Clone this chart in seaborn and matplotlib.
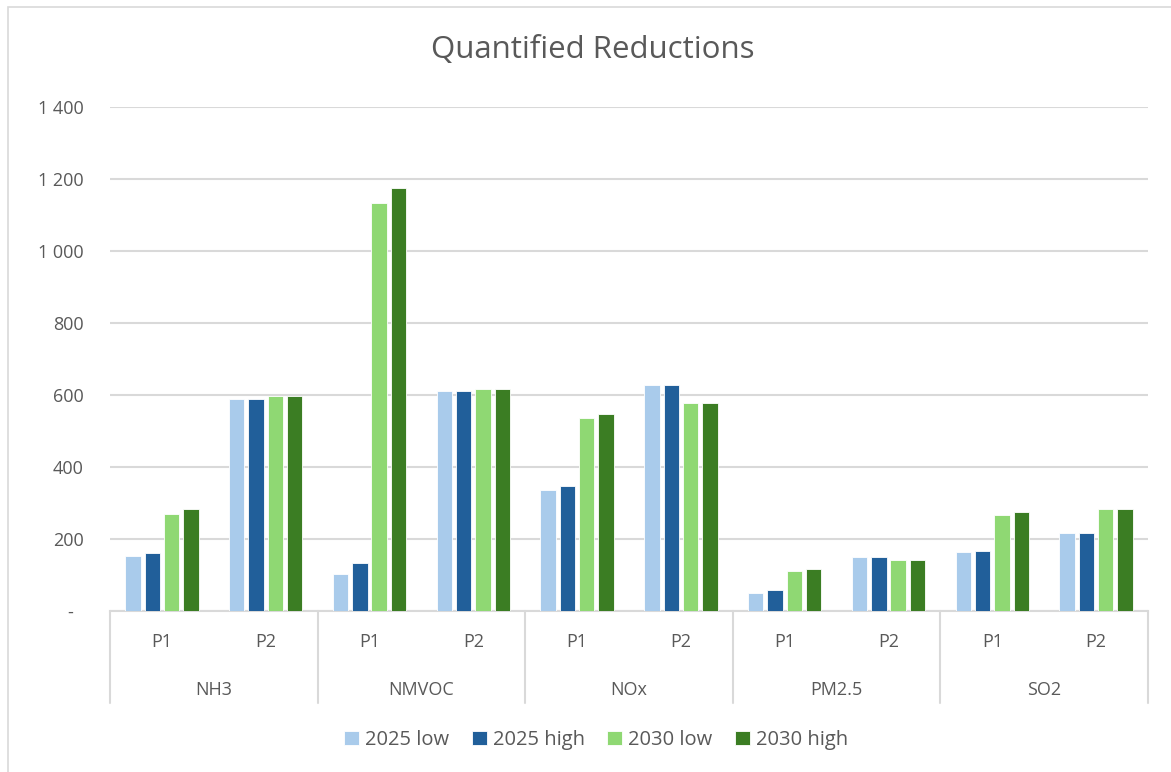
import pandas as pd
import matplotlib
matplotlib.use("Agg")
import matplotlib.pyplot as plt
import matplotlib.transforms as mtransforms
from matplotlib.patches import Rectangle
from matplotlib.ticker import FuncFormatter
import seaborn as sns

# data
pollutants = ["NH3", "NMVOC", "NOx", "PM2.5", "SO2"]
proposals = ["P1", "P2"]
series = ["2025 low", "2025 high", "2030 low", "2030 high"]
low_2025 = [153, 589, 103, 610, 336, 628, 50, 150, 163, 218]
high_2025 = [161, 589, 133, 610, 346, 628, 58, 150, 168, 218]
low_2030 = [269, 597, 1132, 618, 536, 579, 112, 143, 268, 283]
high_2030 = [282, 597, 1174, 618, 547, 579, 116, 143, 275, 283]
colors = ["#A9CBEB", "#215F9A", "#8FD873", "#3B7D23"]

cats = [f"{p}|{q}" for p in pollutants for q in proposals]
rows = []
for name, vals in zip(series, [low_2025, high_2025, low_2030, high_2030]):
    for c, v in zip(cats, vals):
        rows.append({"cat": c, "series": name, "value": v})
df = pd.DataFrame(rows)

sns.set_style("white")
plt.rcParams["font.family"] = ["Open Sans", "DejaVu Sans"]
text_col = "#595959"
grid_col = "#D9D9D9"

W, H = 1171, 772
fig = plt.figure(figsize=(W / 100, H / 100), dpi=100)
ax = fig.add_axes([110 / W, (H - 611) / H, (1148 - 110) / W, (611 - 107) / H])

sns.barplot(data=df, x="cat", y="value", hue="series", order=cats,
            hue_order=series, palette=colors, saturation=1, width=0.744,
            gap=0.2, edgecolor="white", linewidth=0.6, ax=ax, zorder=3)

ax.set_ylim(0, 1400)
ax.set_xlim(-0.5, len(cats) - 0.5)
ax.set_yticks(range(0, 1401, 200))
ax.yaxis.set_major_formatter(FuncFormatter(
    lambda v, _: "-  " if v == 0 else f"{int(v):,}".replace(",", " ")))
ax.grid(axis="y", color=grid_col, lw=1.5, zorder=0)
for s in ["top", "right", "left"]:
    ax.spines[s].set_visible(False)
ax.spines["bottom"].set_color(grid_col)
ax.spines["bottom"].set_linewidth(1.5)
ax.set_xlabel("")
ax.set_ylabel("")
ax.set_xticks(range(len(cats)))
ax.set_xticklabels([c.split("|")[1] for c in cats])
ax.tick_params(axis="x", length=0, pad=16, labelsize=13, labelcolor=text_col)
ax.tick_params(axis="y", length=0, pad=19, labelsize=13, labelcolor=text_col)

# multi-level category axis
trans = mtransforms.blended_transform_factory(ax.transData, ax.transAxes)
n_sub = len(proposals)
for k in range(len(pollutants) + 1):
    xs = k * n_sub - 0.5
    ax.plot([xs, xs], [0, -0.1825], transform=trans, color=grid_col,
            lw=1.5, clip_on=False)
for k, p in enumerate(pollutants):
    ax.text(k * n_sub + (n_sub - 1) / 2, -0.157, p, transform=trans,
            ha="center", va="center", fontsize=13, color=text_col)

handles, labels = ax.get_legend_handles_labels()
ax.legend_.remove()
fig.legend(handles, labels, loc="center", ncol=4, frameon=False,
           bbox_to_anchor=(596 / W, 1 - 740 / H), fontsize=14.5,
           labelcolor=text_col, handlelength=0.75, handleheight=0.75,
           handletextpad=0.3, columnspacing=1.1)

fig.text(593 / W, 1 - 50 / H, "Quantified Reductions", ha="center",
         va="center", fontsize=22.5, color=text_col)

# chart frame
fig.patches.append(Rectangle((8 / W, -0.05), 1.1, 1.05 - 7 / H,
                             transform=fig.transFigure, fill=False,
                             edgecolor=grid_col, lw=1.2))

fig.savefig("out.png", dpi=100)
